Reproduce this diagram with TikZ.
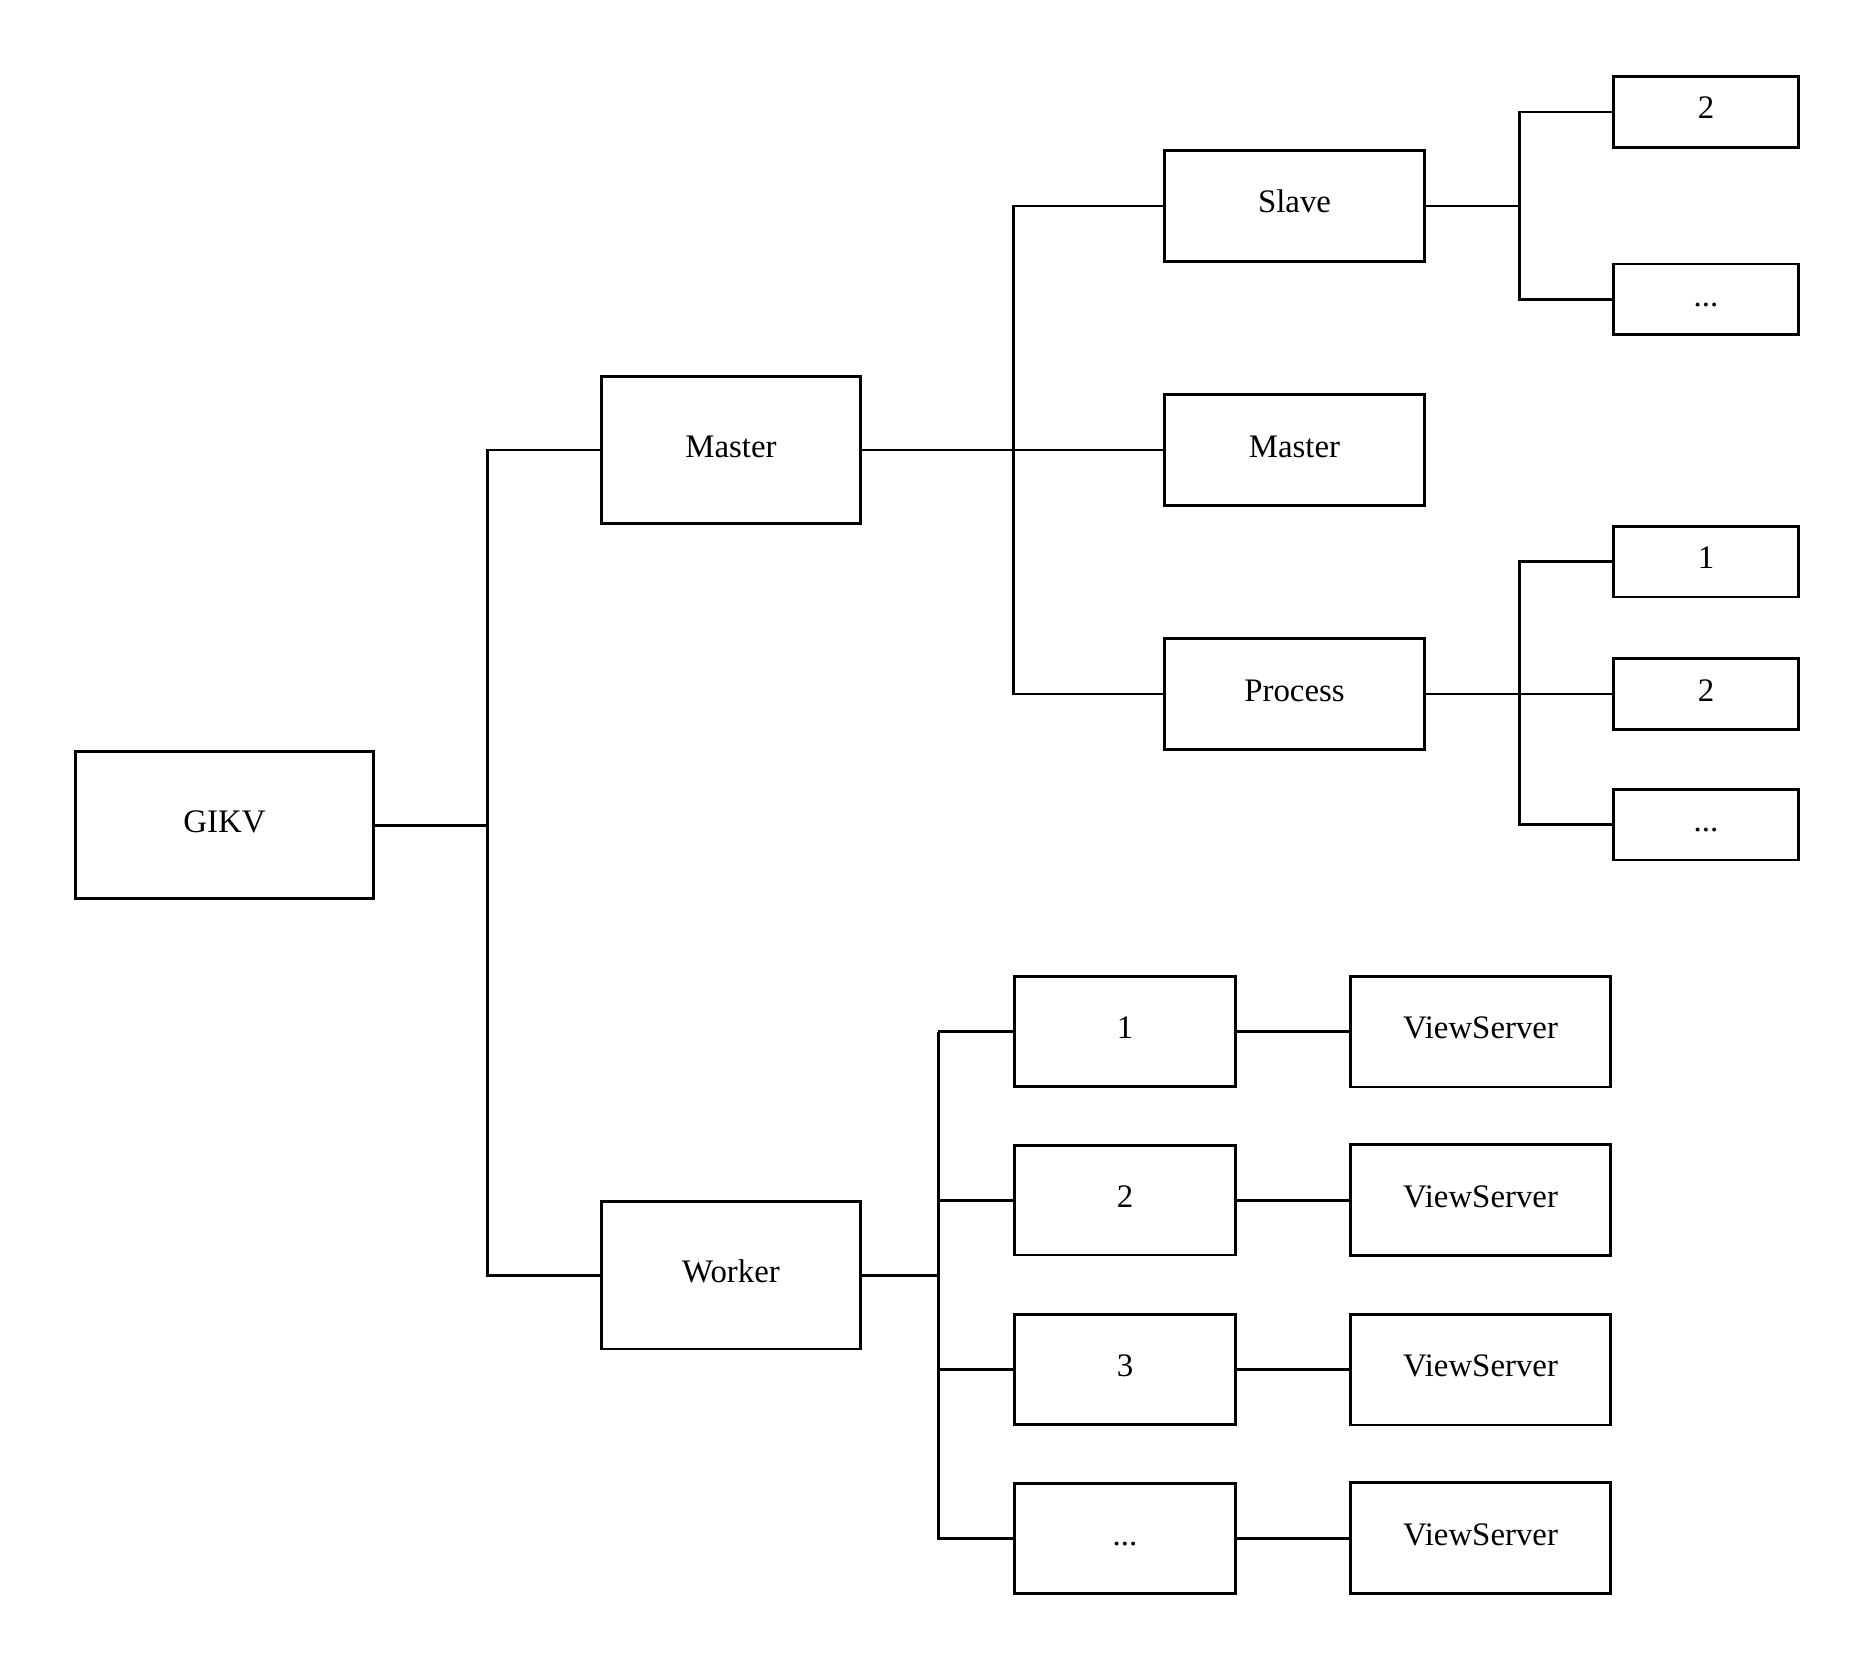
\documentclass[tikz,border=0pt]{standalone}
\usepackage{fontspec}
\setmainfont{Liberation Serif}
\begin{document}
\begin{tikzpicture}[x=0.02cm, y=-0.02cm,
        box/.style={draw, line width=1.7pt, inner sep=0pt,
            text height=0.5cm, text depth=0.22cm,
            font=\fontsize{18.7}{22}\selectfont},
        bigbox/.style={box, minimum width=5.2cm, minimum height=2.96cm},
        midbox/.style={box, minimum width=5.2cm, minimum height=2.22cm},
        leafbox/.style={box, minimum width=3.7cm, minimum height=1.42cm},
        wbox/.style={box, minimum width=4.42cm, minimum height=2.2cm},
        link/.style={line width=1.7pt},
        thinlink/.style={line width=1.2pt}]
        \useasboundingbox (0,0) rectangle (1875,1669);
        % root and first level
        \node[box, minimum width=5.96cm, minimum height=2.94cm] (gikv) at (224.5,825) {GIKV};
        \node[bigbox] (master) at (731,450) {Master};
        \node[bigbox] (worker) at (731,1275) {Worker};
        % second level under master
        \node[midbox] (slave) at (1294.5,206) {Slave};
        \node[midbox] (master2) at (1294.5,450) {Master};
        \node[midbox] (process) at (1294.5,694) {Process};
        % leaves of slave and process
        \node[leafbox] (s2) at (1706,112) {2};
        \node[leafbox] (sdots) at (1706,299.5) {...};
        \node[leafbox] (p1) at (1706,561.5) {1};
        \node[leafbox] (p2) at (1706,694) {2};
        \node[leafbox] (pdots) at (1706,824.5) {...};
        % workers and their view servers
        \node[wbox] (w1) at (1125,1031.5) {1};
        \node[wbox] (w2) at (1125,1200) {2};
        \node[wbox] (w3) at (1125,1369.5) {3};
        \node[wbox] (wdots) at (1125,1538) {...};
        \node[midbox] (vs1) at (1480.5,1031.5) {ViewServer};
        \node[midbox] (vs2) at (1480.5,1200) {ViewServer};
        \node[midbox] (vs3) at (1480.5,1369.5) {ViewServer};
        \node[midbox] (vs4) at (1480.5,1538) {ViewServer};
        % bus positions
        \coordinate (b1) at (487,0);
        \coordinate (b2) at (1013,0);
        \coordinate (b3) at (1519,0);
        \coordinate (b4) at (938,0);
        % gikv to master and worker
        \draw [link] (gikv.east) -- (gikv.east -| b1);
        \draw [link] (master.west) -- (master.west -| b1) -- (worker.west -| b1) -- (worker.west);
        % master to slave, master, process
        \draw [link] (master.east) -- (master2.west);
        \draw [link] (slave.west) -- (slave.west -| b2) -- (process.west -| b2) -- (process.west);
        % slave leaves
        \draw [thinlink] (slave.east) -- (slave.east -| b3);
        \draw [link] (s2.west) -- (s2.west -| b3) -- (sdots.west -| b3) -- (sdots.west);
        % process leaves
        \draw [link] (process.east) -- (p2.west);
        \draw [link] (p1.west) -- (p1.west -| b3) -- (pdots.west -| b3) -- (pdots.west);
        % worker rows
        \draw [link] (worker.east) -- (worker.east -| b4);
        \draw [thinlink] (w1.west) -- (w1.west -| b4);
        \draw [link] (w1.west -| b4) -- (wdots.west -| b4) -- (wdots.west);
        \draw [link] (w2.west) -- (w2.west -| b4);
        \draw [link] (w3.west) -- (w3.west -| b4);
        \draw [thinlink] (w1.east) -- (vs1.west);
        \draw [link] (w2.east) -- (vs2.west);
        \draw [link] (w3.east) -- (vs3.west);
        \draw [link] (wdots.east) -- (vs4.west);
\end{tikzpicture}
\end{document}
